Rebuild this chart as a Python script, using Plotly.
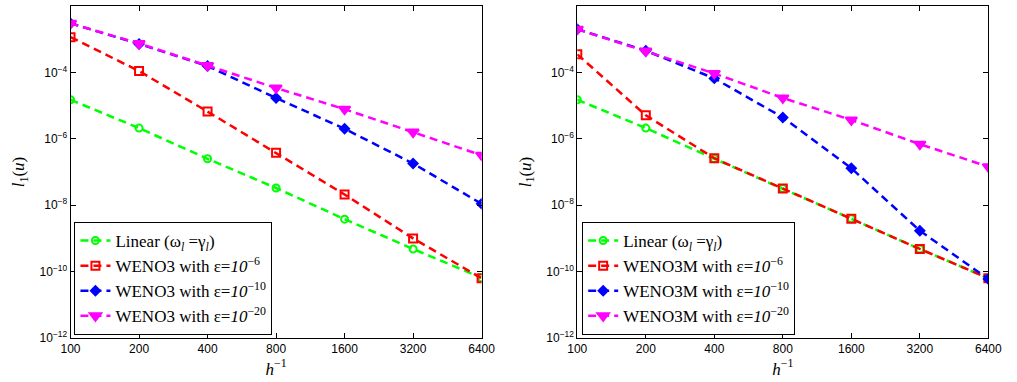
import plotly.graph_objects as go

h_inv = [100, 200, 400, 800, 1600, 3200, 6400]

# Left panel: WENO3
left_linear = [1.5e-5, 2.1e-6, 2.5e-7, 3.3e-8, 3.8e-9, 4.8e-10, 6.5e-11]
left_eps6 = [1.15e-3, 1.1e-4, 6.6e-6, 3.8e-7, 2.1e-8, 1.0e-9, 6.3e-11]
left_eps10 = [3.0e-3, 7.2e-4, 1.55e-4, 1.7e-5, 2.0e-6, 1.8e-7, 1.1e-8]
left_eps20 = [3.0e-3, 7.4e-4, 1.6e-4, 3.4e-5, 7.8e-6, 1.6e-6, 3.2e-7]

# Right panel: WENO3M
right_linear = [1.5e-5, 2.1e-6, 2.5e-7, 3.2e-8, 3.9e-9, 4.8e-10, 6.3e-11]
right_eps6 = [3.5e-4, 5.1e-6, 2.6e-7, 3.2e-8, 3.9e-9, 4.8e-10, 6.3e-11]
right_eps10 = [2.0e-3, 4.5e-4, 6.6e-5, 4.4e-6, 1.3e-7, 1.7e-9, 6.0e-11]
right_eps20 = [2.0e-3, 4.4e-4, 9.3e-5, 1.7e-5, 3.7e-6, 6.9e-7, 1.45e-7]

left_names = [
    "Linear (ω<sub><i>l</i></sub> =γ<sub><i>l</i></sub>)",
    "WENO3 with ε=<i>10</i><sup>−6</sup>",
    "WENO3 with ε=<i>10</i><sup>−10</sup>",
    "WENO3 with ε=<i>10</i><sup>−20</sup>",
]
right_names = [
    "Linear (ω<sub><i>l</i></sub> =γ<sub><i>l</i></sub>)",
    "WENO3M with ε=<i>10</i><sup>−6</sup>",
    "WENO3M with ε=<i>10</i><sup>−10</sup>",
    "WENO3M with ε=<i>10</i><sup>−20</sup>",
]

y_tickvals = [1e-2, 1e-4, 1e-6, 1e-8, 1e-10, 1e-12]
y_ticktext = ["10<sup>−2</sup>", "10<sup>−4</sup>", "10<sup>−6</sup>",
              "10<sup>−8</sup>", "10<sup>−10</sup>", "10<sup>−12</sup>"]
x_ticktext = ["100", "200", "400", "800", "1600", "3200", "6400"]

colors = ["#00ff00", "#ff0000", "#0000ff", "#ff00ff"]
symbols = ["circle-open", "square-open", "diamond", "triangle-down"]
msizes = [7, 8, 7, 10]

fig = go.Figure()

panels = [
    ([left_linear, left_eps6, left_eps10, left_eps20], left_names, "x", "y", "legend"),
    ([right_linear, right_eps6, right_eps10, right_eps20], right_names, "x2", "y2", "legend2"),
]
for series, names, xa, ya, leg in panels:
    for i, (vals, nm) in enumerate(zip(series, names)):
        fig.add_trace(go.Scatter(
            x=h_inv, y=vals, name=nm, xaxis=xa, yaxis=ya, legend=leg,
            mode="lines+markers",
            line=dict(color=colors[i], width=2.5, dash="8px,5px"),
            marker=dict(symbol=symbols[i], size=msizes[i], color=colors[i],
                        line=dict(color=colors[i], width=2)),
        ))

tickfont = dict(family="Liberation Sans, Arial", size=12, color="black")
title_font = dict(family="Liberation Serif, Times New Roman", size=17, color="black")
common_x = dict(type="log", range=[2, 3.80618], tickvals=h_inv, ticktext=x_ticktext,
                ticks="inside", ticklen=5, tickcolor="black", showline=True,
                linecolor="black", linewidth=1, mirror="ticks", showgrid=False,
                zeroline=False, tickfont=tickfont,
                title=dict(text="<i>h</i><sup>−1</sup>", standoff=2, font=title_font))
common_y = dict(type="log", range=[-12, -2], tickvals=y_tickvals, ticktext=y_ticktext,
                ticks="inside", ticklen=5, tickcolor="black", showline=True,
                linecolor="black", linewidth=1, mirror="ticks", showgrid=False,
                zeroline=False, tickfont=tickfont,
                title=dict(text="<i>l</i><sub>1</sub>(<i>u</i>)", standoff=10, font=title_font))

legend_common = dict(
    font=dict(family="Liberation Serif, Times New Roman", size=17, color="black"),
    bgcolor="white", bordercolor="black", borderwidth=1,
    xanchor="left", yanchor="bottom", tracegroupgap=0, itemwidth=30,
)

fig.update_layout(
    width=1017, height=382,
    margin=dict(l=0, r=0, t=6, b=44),
    paper_bgcolor="white", plot_bgcolor="white",
    showlegend=True,
    xaxis=dict(domain=[62 / 1017, 483 / 1017], anchor="y", **common_x),
    yaxis=dict(domain=[0, 1], anchor="x", **common_y),
    xaxis2=dict(domain=[581 / 1017, 1002 / 1017], anchor="y2", **common_x),
    yaxis2=dict(domain=[0, 1], anchor="x2", **common_y),
    legend=dict(x=66 / 1017, y=(338 - 335) / 332, **legend_common),
    legend2=dict(x=586 / 1017, y=(338 - 335) / 332, **legend_common),
)

fig.write_html("out.html")
